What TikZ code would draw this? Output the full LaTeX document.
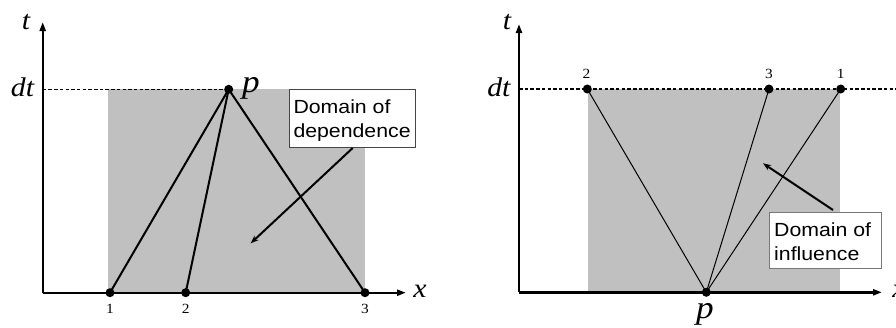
\documentclass[tikz,border=0pt]{standalone}
\usepackage{fontspec}
\setmainfont{Liberation Serif}[FakeStretch=1.1]
\setsansfont{Liberation Sans}[FakeStretch=1.12]
\usetikzlibrary{arrows.meta}
\definecolor{areagray}{RGB}{192,192,192}
\definecolor{boxline}{RGB}{70,70,70}
\definecolor{boxline2}{RGB}{120,120,120}
\begin{document}
\begin{tikzpicture}[x=1pt,y=-1pt,
  axis/.style={line width=2.4pt,-{Triangle[length=9pt,width=6pt]}},
  dashline/.style={line width=1.1pt,dash pattern=on 3.5pt off 2.2pt},
  dot/.style={circle,fill=black,inner sep=0pt,minimum size=9pt},
  ital/.style={font=\fontsize{27}{27}\selectfont\itshape,inner sep=0pt},
  pital/.style={font=\fontsize{32}{32}\selectfont\itshape,inner sep=0pt},
  num/.style={font=\fontsize{14}{14}\selectfont,inner sep=0pt},
  domainbox/.style={fill=white,line width=1pt,inner sep=0pt,anchor=north west},
  domaintext/.style={font=\sffamily\fontsize{19}{24}\selectfont,align=left,inner sep=0pt,anchor=base west},
  thickline/.style={line width=2pt},
  thinline/.style={line width=1pt},
  pointer/.style={line width=2pt,-{Stealth[length=8pt,width=6pt]}}
]
\useasboundingbox (0,0) rectangle (896,327);

% ---------------- left panel ----------------
\fill[areagray] (108,89.3) rectangle (365,292.7);
\coordinate (LO) at (42.7,292.7);
\coordinate (LYt) at (42.7,22);
\coordinate (LXt) at (406,292.7);
\coordinate (Ldt) at (42.7,89.3);
\draw[axis] (LO) -- (LYt);
\draw[axis] (LO) -- (LXt);
\node[dot] (Lp) at (228.7,89.3) {};
\node[dot] (L1) at (110,292.7) {};
\node[dot] (L2) at (185.7,292.7) {};
\node[dot] (L3) at (365,292.7) {};
\draw[dashline] (Ldt) -- (Lp.center);
\draw[thickline] (L1.center) -- (Lp.center) -- (L3.center);
\draw[thickline] (L2.center) -- (Lp.center);
\node[ital,anchor=base] (Lt) at (26,29) {t};
\node[ital,anchor=base] (Ldtl) at (22.5,96.7) {dt};
\node[ital,anchor=base] (Lx) at (420,297.3) {x};
\node[pital,anchor=base] (Lpl) at (251,92) {p};
\node[num,anchor=base] (Ln1) at (110,313.3) {1};
\node[num,anchor=base] (Ln2) at (185.7,313.3) {2};
\node[num,anchor=base] (Ln3) at (365,313.3) {3};
\node[domainbox,draw=boxline,minimum width=126.3pt,minimum height=57.4pt] (Lbox) at (288.7,89.3) {};
\node[domaintext] (Ltext) at (293.3,137.3) {Domain of\\dependence};
\coordinate (Lpt) at (250.7,243.3);
\draw[pointer] (352.7,148) coordinate (Lps) -- (Lpt);

% ---------------- right panel ----------------
\fill[areagray] (588,89) rectangle (839.7,292.3);
\coordinate (RO) at (519,292.3);
\coordinate (RYt) at (519,24);
\coordinate (RXt) at (882,292.3);
\coordinate (Rdt) at (519,89);
\coordinate (Rend) at (896,89);
\draw[axis] (RO) -- (RYt);
\draw[axis] (RO) -- (RXt);
\draw[dashline] (Rdt) -- (Rend);
\node[dot] (Rp) at (706.3,292.3) {};
\node[dot] (R2) at (587.3,89) {};
\node[dot] (R3) at (769,89) {};
\node[dot] (R1) at (840.7,89) {};
\draw[thinline] (R2.center) -- (Rp.center);
\draw[thinline] (R3.center) -- (Rp.center);
\draw[thinline] (R1.center) -- (Rp.center);
\node[ital,anchor=base] (Rt) at (507,29.3) {t};
\node[ital,anchor=base] (Rdtl) at (498.8,96.7) {dt};
\node[ital,anchor=base] (Rx) at (899,297) {x};
\node[pital,anchor=base] (Rpl) at (705,318.5) {p};
\node[num,anchor=base] (Rn2) at (586.5,78.3) {2};
\node[num,anchor=base] (Rn3) at (769,78.3) {3};
\node[num,anchor=base] (Rn1) at (840.7,78.3) {1};
\draw[pointer] (833,210) coordinate (Rps) -- (763,163.3) coordinate (Rpt);
\node[domainbox,draw=boxline2,minimum width=112.6pt,minimum height=56pt] (Rbox) at (768.7,211.7) {};
\node[domaintext] (Rtext) at (774,260) {Domain of\\influence};
\end{tikzpicture}
\end{document}
